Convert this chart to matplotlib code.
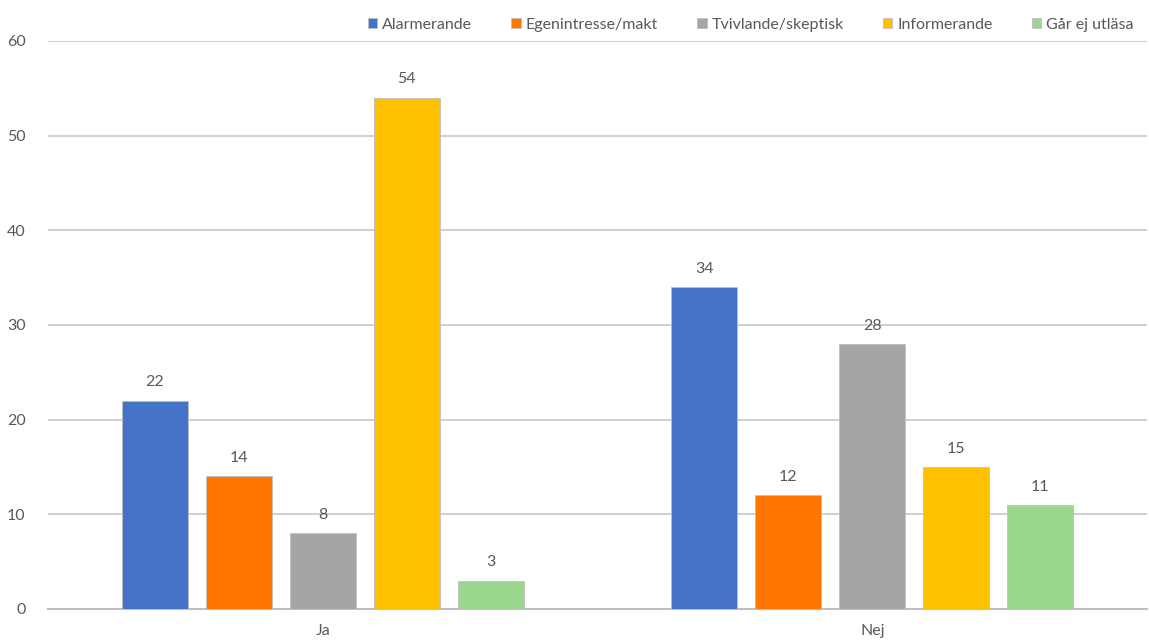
import numpy as np
import matplotlib
matplotlib.use("Agg")
from matplotlib import pyplot as plt

plt.rcParams['font.family'] = ['Lato', 'DejaVu Sans']

# data
groups = ['Ja', 'Nej']
series = ['Alarmerande', 'Egenintresse/makt', 'Tvivlande/skeptisk', 'Informerande', 'Går ej utläsa']
alarmerande = [22, 34]
egenintresse = [14, 12]
tvivlande = [8, 28]
informerande = [54, 15]
gar_ej = [3, 11]
values = [alarmerande, egenintresse, tvivlande, informerande, gar_ej]
colors = ['#4472C4', '#FF7700', '#A5A5A5', '#FFC000', '#9AD68D']
yticks = [0, 10, 20, 30, 40, 50, 60]

txt = '#595959'

fig = plt.figure(figsize=(11.49, 6.41), dpi=100)
ax = fig.add_axes([48/1149, 32/641, 1099/1149, 568/641])

x = np.arange(len(groups))
w = 0.12
step = 0.153
for i, (name, vals, c) in enumerate(zip(series, values, colors)):
    pos = x + (i - 2) * step
    bars = ax.bar(pos, vals, w, color=c, edgecolor='#BFBFBF', linewidth=0.6, label=name, zorder=3)
    for b, v in zip(bars, vals):
        ax.text(b.get_x() + b.get_width() / 2, v + 1.2, str(v), ha='center', va='bottom',
                fontsize=11.5, color=txt)

ax.set_xlim(-0.5, 1.5)
ax.set_ylim(0, 60)
ax.set_yticks(yticks)
ax.set_xticks(x)
ax.set_xticklabels(groups)
ax.grid(axis='y', color='#C8C8C8', linewidth=1.2, zorder=0)
for s in ['top', 'right', 'left']:
    ax.spines[s].set_visible(False)
ax.spines['bottom'].set_color('#BFBFBF')
ax.spines['bottom'].set_linewidth(1.5)
ax.tick_params(axis='both', length=0, labelsize=11.5, colors=txt)
ax.tick_params(axis='y', pad=16)
ax.tick_params(axis='x', pad=11)

fig.legend(loc='upper right', bbox_to_anchor=(0.999, 0.995), ncol=5, frameon=False,
           fontsize=11.5, handlelength=0.6, handleheight=0.6, handletextpad=0.3,
           columnspacing=2.45, labelcolor=txt)

fig.savefig('out.png', dpi=100)
